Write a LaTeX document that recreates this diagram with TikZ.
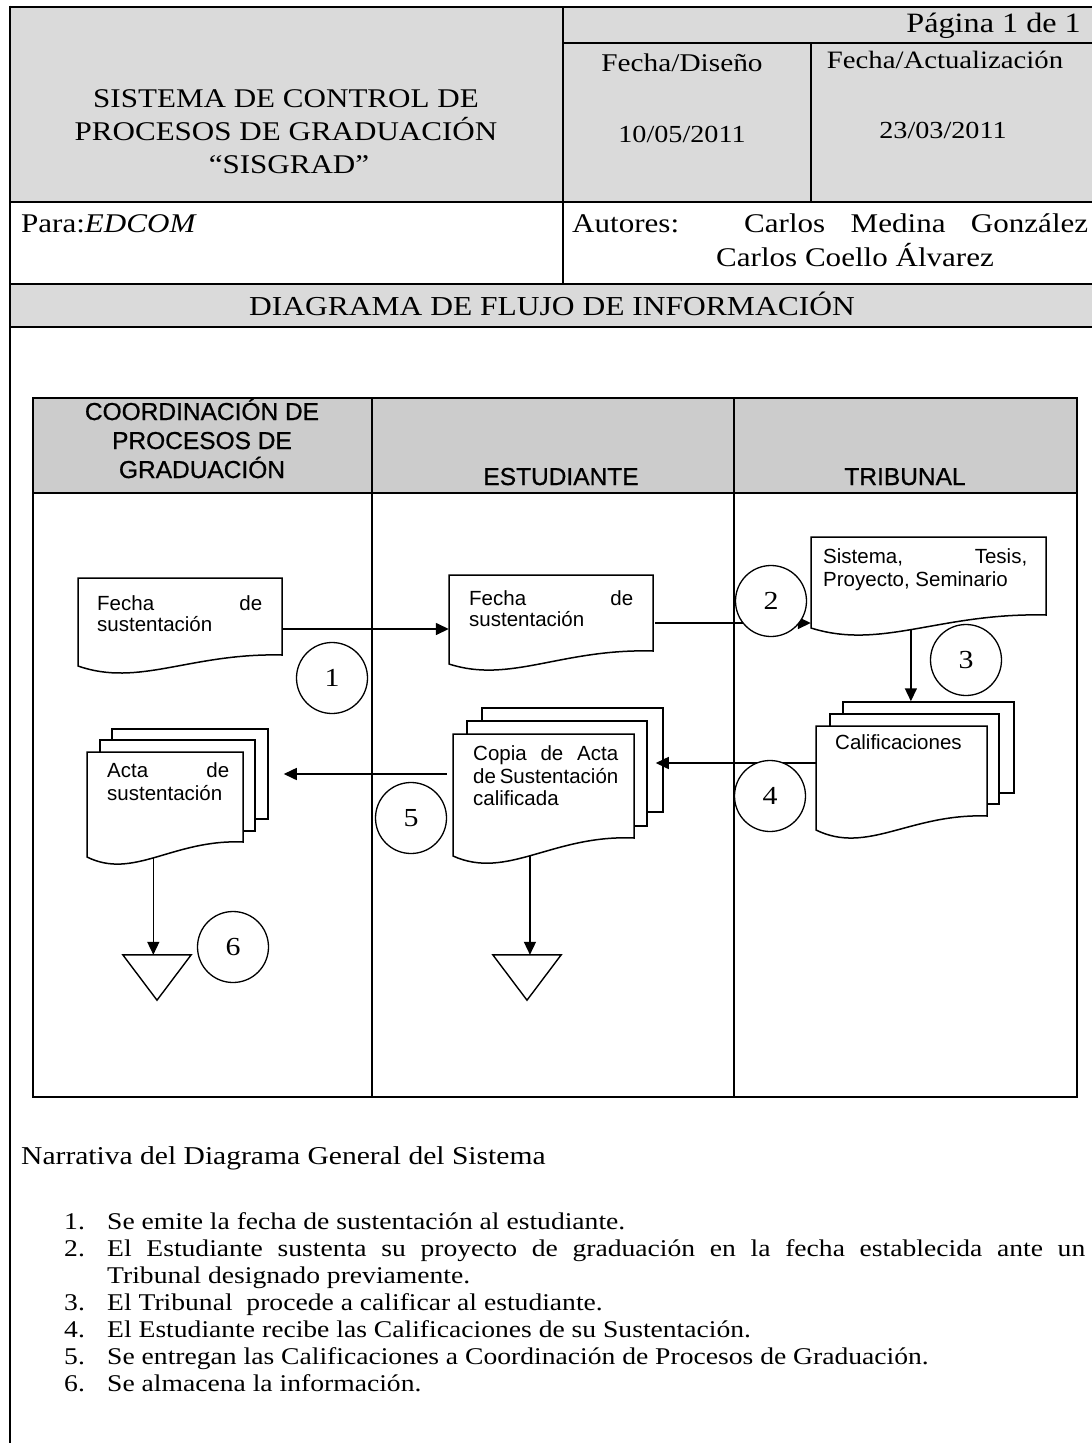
\documentclass[tikz,border=0pt]{standalone}
\usepackage{fontspec}
\setmainfont{Liberation Serif}[FakeStretch=1.15]
\newfontfamily\arialf{Liberation Sans}
\newfontfamily\arialh{Liberation Sans}[FakeBold=0.8]
\usetikzlibrary{arrows.meta,calc}
\definecolor{hdrgray}{HTML}{DADADA}
\definecolor{lanegray}{HTML}{CCCCCC}
\newcommand\setfs[1]{\fontsize{#1}{#1}\selectfont}
% document symbol: name, x1, y1 (top), x2, yb (right bottom), drop, dip
\newcommand\mkdoc[7]{%
  \path[docline] (#2,{#5+#6}) .. controls ({#2+0.3*(#4-#2)},{#5+(#7-0.394*#6)/0.4219}) and ({#2+0.55*(#4-#2)},{#5-0.2*#6}) .. coordinate[pos=0.48] (#1-bot) (#4,#5) -- (#4,#3) -- (#2,#3) -- cycle;
  \node[inner sep=0pt, minimum width={#4-#2}, minimum height={#5-#3}] (#1) at ({(#2+#4)/2},{(#3+#5)/2}) {};%
}
% back sheet of a multi-document: name, x1, y1, x2, y2
\newcommand\mksheet[5]{%
  \node[sheet, minimum width={#4-#2}, minimum height={#5-#3}] (#1) at ({(#2+#4)/2},{(#3+#5)/2}) {};%
}
\begin{document}
\begin{tikzpicture}[x=1pt,y=-1pt,
  thinln/.style={line width=1.2pt},
  thickln/.style={line width=2.8pt},
  docline/.style={draw, fill=white, line width=1.5pt},
  sheet/.style={draw, fill=white, line width=1.5pt, inner sep=0pt},
  flow/.style={line width=1.5pt, -{Triangle[length=13pt,width=12pt]}},
  plain/.style={line width=1.4pt},
  numc/.style={circle, draw, fill=white, line width=1.3pt, minimum size=71pt, inner sep=0pt, font=\setfs{26}},
  hdr/.style={inner sep=0pt, anchor=base, font=\setfs{27}},
  boxt/.style={inner sep=0pt, anchor=base west, font=\arialf\setfs{20.5}},
  laneh/.style={inner sep=0pt, anchor=base, font=\arialh\setfs{24.5}},
  narr/.style={inner sep=0pt, anchor=base west, font=\setfs{24}},
]
\useasboundingbox (0,0) rectangle (1092,1443);
\fill[white] (0,0) rectangle (1092,1443);

% ---------- header ----------
\fill[hdrgray] (10,7) rectangle (1092,202);
\fill[hdrgray] (10,284) rectangle (1092,327);
\draw[thinln] (563,7) -- (563,284);
\draw[line width=2.2pt] (563,43) -- (1092,43);
\draw[line width=2pt] (811,43) -- (811,202);
\draw[thickln] (10,202) -- (1092,202);
\draw[line width=1.5pt] (10,284) -- (1092,284);
\draw[thickln] (10,327) -- (1092,327);
\draw[thickln] (10,7) -- (1092,7);
\draw[line width=1.8pt] (10,5.6) -- (10,1443);

\node[hdr] (t1) at (286,107) {SISTEMA DE CONTROL DE};
\node[hdr] (t2) at (286,140) {PROCESOS DE GRADUACIÓN};
\node[hdr] (t3) at (289,173) {“SISGRAD”};
\node[hdr, anchor=base east, font=\setfs{28}] (pag) at (1081,32) {Página 1 de 1};
\node[hdr, font=\setfs{25.5}] (fd) at (682,71) {Fecha/Diseño};
\node[hdr, font=\setfs{25}] (fa) at (945,68) {Fecha/Actualización};
\node[hdr, font=\setfs{24.5}] (fdv) at (682,142) {10/05/2011};
\node[hdr, font=\setfs{24.5}] (fav) at (943,138) {23/03/2011};
\node[hdr, anchor=base west] (para) at (21,232) {Para:\textit{EDCOM}};
\node[hdr, anchor=base west] (aut) at (572,232) {Autores:};
\node[hdr, anchor=base west] (aut1) at (744,232) {\makebox[344pt][s]{Carlos Medina González}};
\node[hdr] (aut2) at (855,266) {Carlos Coello Álvarez};
\node[hdr, font=\setfs{27.4}] (dfi) at (552,315) {DIAGRAMA DE FLUJO DE INFORMACIÓN};

% ---------- swimlanes ----------
\fill[lanegray] (33,398) rectangle (1077,493);
\draw[line width=2pt] (33,493) -- (1077,493);
\draw[thinln] (372,398) -- (372,1097);
\draw[thinln] (734,398) -- (734,1097);
\draw[line width=2.5pt] (33,398) rectangle (1077,1097);

\node[laneh] (lh1a) at (202,420) {COORDINACIÓN DE};
\node[laneh] (lh1b) at (202,449) {PROCESOS DE};
\node[laneh] (lh1c) at (202,478) {GRADUACIÓN};
\node[laneh] (lh2) at (561,485) {ESTUDIANTE};
\node[laneh] (lh3) at (905,485) {TRIBUNAL};

% documents
\mkdoc{d1}{78}{578}{282}{655}{11}{18}
\node[boxt] (d1a) at (97,610) {\makebox[165pt][s]{Fecha de}};
\node[boxt] (d1b) at (97,631) {sustentación};

\mkdoc{d2}{449}{575}{653}{651}{13}{19}
\node[boxt] (d2a) at (469,605) {\makebox[164pt][s]{Fecha de}};
\node[boxt] (d2b) at (469,626) {sustentación};

\mkdoc{d3}{811}{537}{1046}{615}{13}{20}
\node[boxt] (d3a) at (823,563) {\makebox[204pt][s]{Sistema, Tesis,}};
\node[boxt] (d3b) at (823,586) {Proyecto, Seminario};

\mksheet{cal3}{843}{702}{1014}{793}
\mksheet{cal2}{830}{714}{999}{804}
\mkdoc{cal}{816}{726}{987}{816}{14}{22}
\node[boxt] (calt) at (835,749) {Calificaciones};

\mksheet{cop3}{482}{708}{663}{812}
\mksheet{cop2}{467}{721}{647}{826}
\mkdoc{cop}{453}{734}{634}{838}{18}{25}
\node[boxt] (copa) at (473,760) {\makebox[145pt][s]{Copia de Acta}};
\node[boxt] (copb) at (473,783) {\makebox[145pt][s]{de Sustentación}};
\node[boxt] (copc) at (473,805) {calificada};

\mksheet{act3}{112}{729}{268}{819}
\mksheet{act2}{100}{740}{255}{831}
\mkdoc{act}{87}{752}{243}{842}{15}{22}
\node[boxt] (acta) at (107,777) {\makebox[122pt][s]{Acta de}};
\node[boxt] (actb) at (107,800) {sustentación};

% storage triangles
\node[inner sep=0pt, minimum width=68pt, minimum height=45pt] (st1) at (157,977.5) {};
\draw[plain] (st1.north west) -- (st1.north east) -- (st1.south) -- cycle;
\node[inner sep=0pt, minimum width=68pt, minimum height=45pt] (st2) at (527,977.5) {};
\draw[plain] (st2.north west) -- (st2.north east) -- (st2.south) -- cycle;

% connectors
\draw[flow] ($(d1.east)+(0,12.5)$) -- ($(d2.west)+(0,16)$);
\draw[flow] ($(d2.east)+(2,10)$) -- ($(d3.west)+(0,47)$);
\draw[flow] (d3-bot) -- (d3-bot |- cal3.north);
\draw[flow] ($(cal.west)+(0,-8)$) -- ($(cop3.east)+(-8,3)$);
\draw[flow] ($(cop.west)+(-6,-12)$) -- ($(act3.east)+(15,0)$);
\draw[flow] (act-bot) -- (act-bot |- st1.north);
\draw[flow] (cop-bot) -- (cop-bot |- st2.north);

% step numbers
\node[numc] (n1) at (332,678) {1};
\node[numc] (n2) at (771,601) {2};
\node[numc] (n3) at (966,660) {3};
\node[numc] (n4) at (770,796) {4};
\node[numc] (n5) at (411,818) {5};
\node[numc] (n6) at (233,947) {6};

% ---------- narrative ----------
\node[narr, font=\setfs{25.7}] (nt) at (21,1164) {Narrativa del Diagrama General del Sistema};
\node[narr] (i1n) at (64,1229) {1.};
\node[narr] (i1) at (107,1229) {Se emite la fecha de sustentación al estudiante.};
\node[narr] (i2n) at (64,1256) {2.};
\node[narr] (i2) at (107,1256) {\makebox[978pt][s]{El Estudiante sustenta su proyecto de graduación en la fecha establecida ante un}};
\node[narr] (i2b) at (107,1283) {Tribunal designado previamente.};
\node[narr] (i3n) at (64,1310) {3.};
\node[narr] (i3) at (107,1310) {El Tribunal\ \ procede a calificar al estudiante.};
\node[narr] (i4n) at (64,1337) {4.};
\node[narr] (i4) at (107,1337) {El Estudiante recibe las Calificaciones de su Sustentación.};
\node[narr] (i5n) at (64,1364) {5.};
\node[narr] (i5) at (107,1364) {Se entregan las Calificaciones a Coordinación de Procesos de Graduación.};
\node[narr] (i6n) at (64,1391) {6.};
\node[narr] (i6) at (107,1391) {Se almacena la información.};
\end{tikzpicture}
\end{document}
